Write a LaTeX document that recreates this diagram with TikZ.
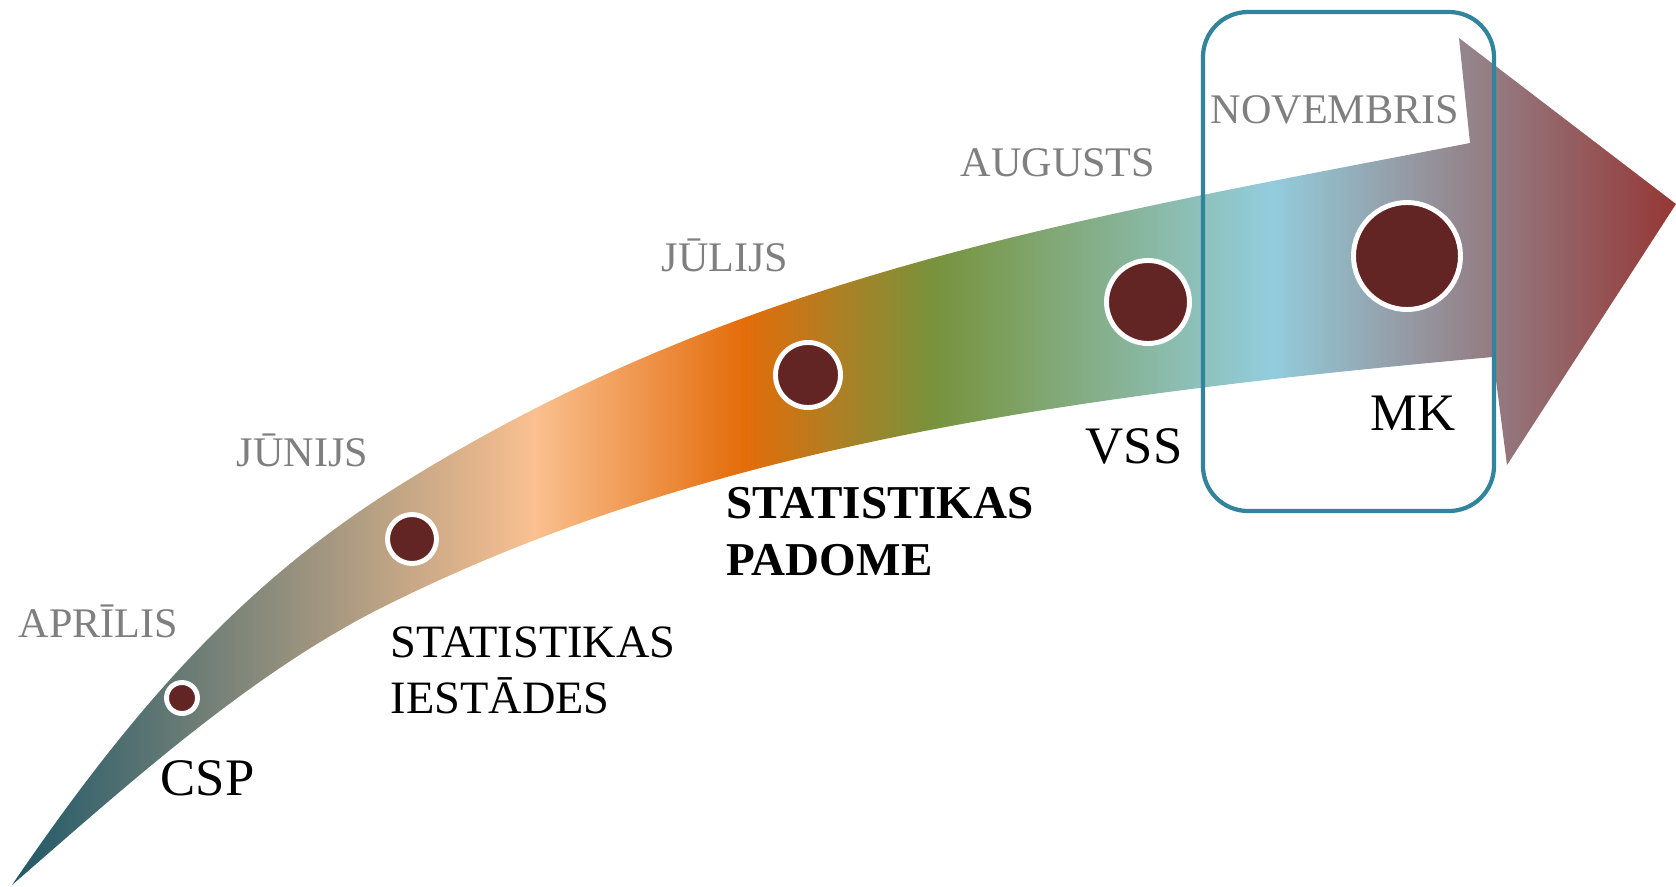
\documentclass[tikz,border=0pt]{standalone}
\usepackage{fontspec}
\setmainfont{Liberation Serif}
\definecolor{tealdark}{RGB}{33,89,104}
\definecolor{peach}{RGB}{250,192,144}
\definecolor{orangemid}{RGB}{228,108,10}
\definecolor{olivegreen}{RGB}{119,147,60}
\definecolor{skyblue}{RGB}{147,205,221}
\definecolor{brickred}{RGB}{149,55,53}
\definecolor{dotbrown}{RGB}{99,37,35}
\definecolor{monthgray}{RGB}{127,127,127}
\definecolor{boxteal}{RGB}{49,132,155}
\pgfdeclarehorizontalshading{arrowshade}{100bp}{color(0bp)=(tealdark); color(25bp)=(tealdark); color(40.7bp)=(peach); color(47bp)=(orangemid); color(52.7bp)=(olivegreen); color(62.8bp)=(skyblue); color(75bp)=(brickred); color(100bp)=(brickred)}

\begin{document}
\begin{tikzpicture}[scale=0.1]
	\tikzstyle{every node}+=[inner sep=0pt]
	\tikzstyle{month}=[text=monthgray, font=\fontsize{12}{14}\selectfont, anchor=base west]
	\tikzstyle{event}=[font=\fontsize{15}{18}\selectfont, anchor=base west]
	\tikzstyle{event2}=[font=\fontsize{13.2}{16}\selectfont, anchor=north west, align=left]
	\tikzstyle{milestone}=[circle, fill=dotbrown, draw=white, line width=1.4pt]
	\useasboundingbox (0,0) rectangle (167.6,-88.7);
	% curved arrow
	\shade [shading=arrowshade] (1.2,-88.5) .. controls (13.6,-70.3) and (24.7,-58.0) .. (40,-48.5)
		.. controls (73.9,-27.3) and (107.7,-21.9) .. (147,-14.3)
		-- (145.9,-3.8) -- (167.6,-20.4) -- (150.7,-46.5) -- (149.3,-35.7)
		.. controls (104.5,-39.75) and (69.6,-45.05) .. (38.3,-60.7)
		.. controls (24.9,-67.4) and (12.5,-78.7) .. (1.2,-88.5) -- cycle;
	% milestones
	\draw (18.2,-69.8) node [milestone, minimum size=3.1mm] (dot1) {};
	\draw (41.2,-53.9) node [milestone, minimum size=4.9mm] (dot2) {};
	\draw (80.8,-37.5) node [milestone, minimum size=6.5mm] (dot3) {};
	\draw (114.8,-30.2) node [milestone, minimum size=8.3mm] (dot4) {};
	\draw (140.7,-25.6) node [milestone, minimum size=10.7mm] (dot5) {};
	% months
	\draw (1.8,-63.7) node [month] (apr) {APRĪLIS};
	\draw (23.6,-46.6) node [month] (jun) {JŪNIJS};
	\draw (66.1,-27.1) node [month] (jul) {JŪLIJS};
	\draw (96.0,-17.6) node [month] (aug) {AUGUSTS};
	\draw (121.0,-12.35) node [month] (nov) {NOVEMBRIS};
	% events
	\draw (16.0,-79.5) node [event] (csp) {CSP};
	\draw (39.0,-62.6) node [event2] (iest) {STATISTIKAS\\IESTĀDES};
	\draw (72.6,-48.7) node [event2, font=\fontsize{13.4}{16}\selectfont\bfseries] (padome) {STATISTIKAS\\PADOME};
	\draw (108.5,-46.3) node [event] (vss) {VSS};
	\draw (137.0,-43.0) node [event] (mk) {MK};
	% highlight box
	\draw [boxteal, line width=1.2pt, rounded corners=4.5mm] (120.3,-1.2) rectangle (149.4,-51.1);
\end{tikzpicture}
\end{document}
